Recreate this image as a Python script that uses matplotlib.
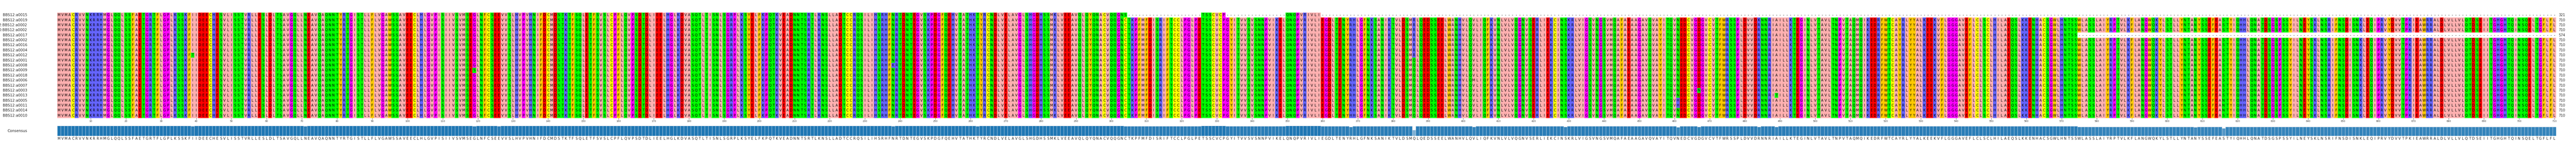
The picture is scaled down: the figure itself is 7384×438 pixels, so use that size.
import numpy as np
import matplotlib
matplotlib.use('Agg')
import matplotlib.pyplot as plt
from collections import Counter

# row labels, top to bottom
names = ['BBS12:a0015', 'BBS12:a0019', 'chm13v2:BBS12:a0002', 'grch38p0:BBS12:a0002',
         'BBS12:a0017', 'BBS12:a0002', 'BBS12:a0016', 'BBS12:a0004', 'BBS12:a0012',
         'BBS12:a0001', 'BBS12:a0008', 'BBS12:a0009', 'BBS12:a0018', 'BBS12:a0006',
         'BBS12:a0007', 'BBS12:a0003', 'BBS12:a0013', 'BBS12:a0005', 'BBS12:a0011',
         'BBS12:a0014', 'BBS12:a0010']

# reference sequence, 710 columns
base_seq = (
    'MVMACRVVNKRRHMGLQQLSSFAETGRTFLGPLKSSKFIIDEECHESVLISSTVRLLESLDLTSAVGQLLNEAVQAQNNTYRTGISTLLFLVG'
    'AWSSAVEECLHLGVPISIIVSVMSEGLNFCSEEVVSLHVPVHNIFDCMDSTKTFSQLETFSVSLCPFLQVP'
    'SDTDLIEELHGLKDVASQTLTISNLSGRPLKSYELFKPQTKVEADNNTSRTLKNSLLADTCCRQSILIHSRHF'
    'NRTDNTEGVSKPDGFQEHVTATHKTYRCNDLVELAVGLSHGDHSSMKLVEEAVQLQYQNACVQQGNCTKPFMFDI'
    'SRIFTCCLPGLPETSSCVCPGYITVVSVSNNPVIKELQNQPVRIVLIEG'
    'DLTENYRHLGFNKSANIKTVLDSMQLQEDSSEELWANHVLQVLIQFKVNLVLVQGNVSERLIEKCINSKRLV'
    'IGSVNGSVMQAFAEAAGAVQVAYITQVNEDCVGDGVCVTFWRSSPLDVVDRNNRIAILLKTEGINLVTAVLTN'
    'PVTAQMQIKEDRFWTCAYRLYYALKEEKVFLGGGAVEFLCLSCLHILAEQSLKKENHACSGWLHNTSSWLA'
    'SSLAIYRPTVLKFLANGWQKYLSTLLYNTANYSSEFEASTYIQHHLQNATDSGSPSSYILNEYSKLNSRIF'
    'NSDISNKLEQIPRVYDVVTPKIEAWRRALDLVLLVLQTDSEIITGHGHTQINSQELTGFLFL'
)

# point substitutions: (row, column, residue), 1-based
substitutions = [
    (9, 39, 'T'), (19, 71, 'S'), (12, 119, 'S'), (15, 126, 'D'), (11, 238, 'K'),
    (7, 262, 'S'), (1, 304, 'S'), (21, 368, 'H'), (2, 386, 'R'), (3, 386, 'R'),
    (4, 386, 'R'), (5, 386, 'R'), (6, 386, 'R'), (7, 386, 'R'), (8, 386, 'R'),
    (9, 386, 'R'), (14, 403, 'M'), (8, 429, 'T'), (18, 461, 'H'), (19, 461, 'H'),
    (16, 467, 'N'), (2, 484, 'K'), (17, 489, 'T'), (13, 608, 'S'),
    (18, 616, 'N'), (19, 616, 'N'), (20, 616, 'N'),
]

# gap stretches: (row, first column, last column)
gaps = [(1, 305, 325), (1, 333, 349), (1, 360, 710), (5, 575, 710)]

# zappo-like residue colours
zappo = {}
for aa in 'ILVAM':
    zappo[aa] = '#ffafaf'
for aa in 'FWY':
    zappo[aa] = '#ffc800'
for aa in 'KRH':
    zappo[aa] = '#6464ff'
for aa in 'DE':
    zappo[aa] = '#ff0000'
for aa in 'STNQ':
    zappo[aa] = '#00ff00'
for aa in 'PG':
    zappo[aa] = '#ff00ff'
zappo['C'] = '#ffff00'
zappo['-'] = '#ffffff'

n_rows = len(names)
n_cols = len(base_seq)
rows = [list(base_seq) for _ in range(n_rows)]
for r, c, aa in substitutions:
    rows[r - 1][c - 1] = aa
for r, c0, c1 in gaps:
    for c in range(c0, c1 + 1):
        rows[r - 1][c - 1] = '-'

consensus = []
identity = []
for j in range(n_cols):
    col = [rows[i][j] for i in range(n_rows)]
    residues = [a for a in col if a != '-']
    top, cnt = Counter(residues).most_common(1)[0]
    consensus.append(top)
    identity.append(cnt / n_rows)

rgb = np.array([[matplotlib.colors.to_rgb(zappo[a]) for a in row] for row in rows])

W, H = 7385, 438
fig = plt.figure(figsize=(W / 100, H / 100), dpi=100)
x0, x1 = 164 / W, 7327 / W
ax = fig.add_axes([x0, 1 - 338 / H, x1 - x0, (338 - 36) / H])
ax.imshow(rgb, aspect='auto', interpolation='nearest',
          extent=(0.5, n_cols + 0.5, n_rows + 0.5, 0.5))
for i, row in enumerate(rows):
    for j, a in enumerate(row):
        ax.text(j + 1, i + 1, a, ha='center', va='center', fontsize=7, color='black')
    ax.text(-0.012, i + 1, names[i], transform=ax.get_yaxis_transform(),
            ha='right', va='center', fontsize=7.5, color='#222222')
    count = sum(1 for a in row if a != '-')
    ax.text(n_cols + 1.2, i + 1, str(count), ha='left', va='center', fontsize=7, color='#222222')
ax.set_xlim(0.5, n_cols + 0.5)
ax.set_ylim(n_rows + 0.5, 0.5)
ax.set_yticks([])
ax.set_xticks(np.arange(10, n_cols + 1, 10))
ax.tick_params(axis='x', labelsize=5, length=3, width=0.6, pad=1.5, colors='#333333')
for s in ax.spines.values():
    s.set_visible(False)

cax = fig.add_axes([x0, 1 - 389 / H, x1 - x0, 29 / H])
cols_x = np.arange(1, n_cols + 1)
bar_colors = [(0.122, 0.467, 0.706, v) for v in identity]
cax.bar(cols_x, identity, width=1.0, color=bar_colors, edgecolor='#cfdcea', linewidth=0.6)
cax.set_xlim(0.5, n_cols + 0.5)
cax.set_ylim(0, 1)
cax.set_xticks([])
cax.set_yticks([])
for s in cax.spines.values():
    s.set_visible(False)
for j, a in enumerate(consensus):
    cax.text(j + 1, -0.12, a, ha='center', va='top', fontsize=7, color='#222222')
cax.text(-0.012, 0.5, 'Consensus', transform=cax.transAxes, ha='right', va='center',
         fontsize=7.5, color='#222222')

fig.savefig('out.png', dpi=100)
